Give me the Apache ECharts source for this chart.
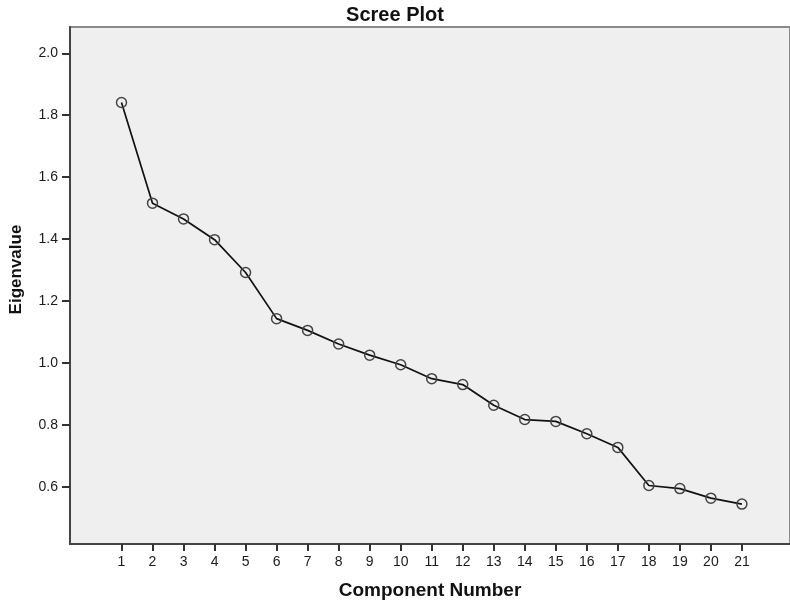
<!DOCTYPE html>
<html>
<head>
<meta charset="utf-8">
<script src="https://cdn.jsdelivr.net/npm/echarts@6/dist/echarts.min.js"></script>
<style>
  html, body { margin: 0; padding: 0; background: #fff; }
  #chart { width: 790px; height: 605px; }
</style>
</head>
<body>
<div id="chart"></div>
<script>
var components = [1, 2, 3, 4, 5, 6, 7, 8, 9, 10, 11, 12, 13, 14, 15, 16, 17, 18, 19, 20, 21];
var eigenvalues = [1.841, 1.516, 1.465, 1.398, 1.292, 1.143, 1.105, 1.061, 1.025, 0.994,
                   0.949, 0.930, 0.863, 0.817, 0.811, 0.771, 0.727, 0.604, 0.594, 0.563, 0.544];
var yTicks = [0.6, 0.8, 1.0, 1.2, 1.4, 1.6, 1.8, 2.0];

var points = components.map(function (c, i) { return [c, eigenvalues[i]]; });

var chartDom = document.getElementById('chart');
var myChart = echarts.init(chartDom);
var option;

option = {
    animation: false,
    textStyle: { fontFamily: 'Liberation Sans, Arial, sans-serif' },
    title: {
        text: 'Scree Plot',
        left: 'center',
        top: 0,
        textStyle: { fontSize: 20, fontWeight: 'bold', color: '#111' }
    },
    grid: {
        left: 66,
        right: -3,
        top: 27,
        bottom: 61,
        show: true,
        backgroundColor: '#efefef',
        borderColor: '#8a8a8a',
        borderWidth: 2
    },
    xAxis: {
        type: 'value',
        min: -0.66,
        max: 22.55,
        name: 'Component Number',
        nameLocation: 'middle',
        nameGap: 37,
        nameTextStyle: { fontSize: 19, fontWeight: 'bold', color: '#111' },
        splitLine: { show: false },
        axisLine: { show: true, onZero: false, lineStyle: { color: '#444', width: 2 } },
        axisTick: {
            show: true,
            length: 7,
            customValues: components,
            lineStyle: { color: '#333', width: 2 }
        },
        axisLabel: {
            customValues: components,
            margin: 11,
            fontSize: 14,
            color: '#1a1a1a'
        }
    },
    yAxis: {
        type: 'value',
        min: 0.415,
        max: 2.085,
        name: 'Eigenvalue',
        nameLocation: 'middle',
        nameGap: 45,
        nameTextStyle: { fontSize: 17, fontWeight: 'bold', color: '#111', padding: [0, 0, 0, 32] },
        splitLine: { show: false },
        axisLine: { show: true, onZero: false, lineStyle: { color: '#444', width: 2 } },
        axisTick: {
            show: true,
            length: 8,
            customValues: yTicks,
            lineStyle: { color: '#333', width: 2 }
        },
        axisLabel: {
            customValues: yTicks,
            margin: 12,
            fontSize: 14,
            color: '#1a1a1a',
            formatter: function (v) { return v.toFixed(1); }
        }
    },
    series: [
        {
            type: 'line',
            data: points,
            symbol: 'circle',
            symbolSize: 10,
            itemStyle: {
                color: 'rgba(0,0,0,0)',
                borderColor: '#444',
                borderWidth: 1.5
            },
            lineStyle: { color: '#111', width: 1.7 }
        }
    ]
};
option && myChart.setOption(option);
</script>
</body>
</html>
